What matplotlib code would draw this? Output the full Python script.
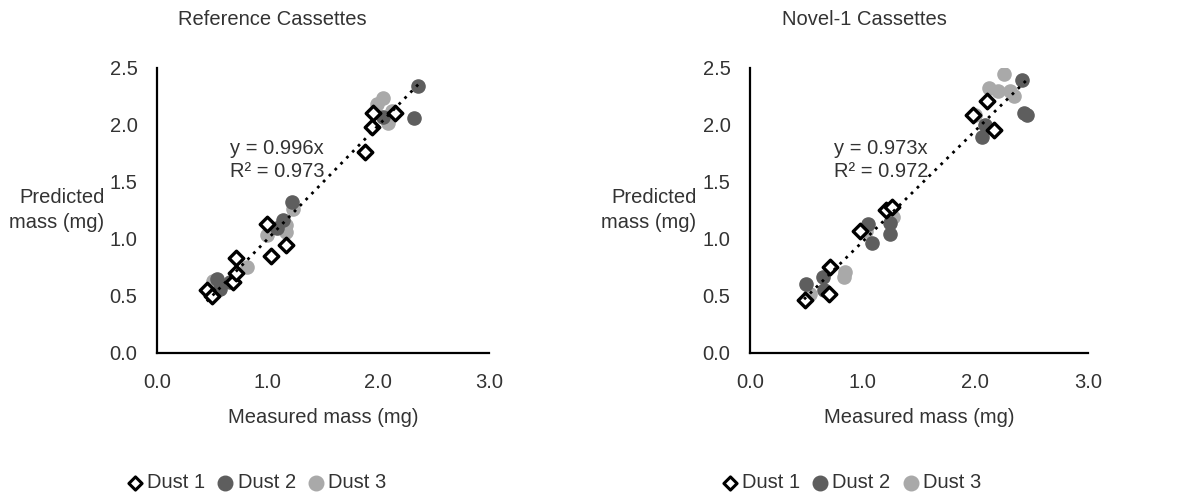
import matplotlib.pyplot as plt
import numpy as np

plt.rcParams['font.family'] = ['Liberation Sans', 'DejaVu Sans']

# Reference cassettes
ref_d1_x = [0.45, 0.50, 0.69, 0.71, 0.71, 0.99, 1.03, 1.17, 1.88, 1.94, 1.95, 2.15]
ref_d1_y = [0.55, 0.50, 0.62, 0.70, 0.83, 1.13, 0.85, 0.94, 1.76, 1.98, 2.10, 2.10]
ref_d2_x = [0.54, 0.57, 0.66, 1.08, 1.14, 1.22, 2.04, 2.32, 2.36]
ref_d2_y = [0.645, 0.56, 0.62, 1.09, 1.16, 1.32, 2.07, 2.06, 2.34]
ref_d3_x = [0.51, 0.54, 0.81, 0.99, 1.17, 1.17, 1.23, 1.99, 2.04, 2.09, 2.12]
ref_d3_y = [0.63, 0.57, 0.75, 1.03, 1.06, 1.12, 1.26, 2.18, 2.23, 2.01, 2.12]

# Novel-1 cassettes
nov_d1_x = [0.49, 0.70, 0.71, 0.98, 1.21, 1.26, 1.98, 2.10, 2.17]
nov_d1_y = [0.46, 0.51, 0.75, 1.07, 1.25, 1.28, 2.08, 2.21, 1.95]
nov_d2_x = [0.50, 0.65, 0.66, 1.05, 1.08, 1.24, 1.24, 2.06, 2.09, 2.41, 2.43, 2.46]
nov_d2_y = [0.60, 0.66, 0.55, 1.13, 0.96, 1.04, 1.14, 1.89, 2.00, 2.39, 2.10, 2.08]
nov_d3_x = [0.53, 0.83, 0.84, 1.03, 1.27, 2.00, 2.12, 2.20, 2.25, 2.31, 2.34]
nov_d3_y = [0.51, 0.66, 0.71, 1.07, 1.19, 2.08, 2.32, 2.29, 2.44, 2.29, 2.25]

panels = [
    ("Reference Cassettes", 0.996, 0.973, (0.45, 2.37),
     ref_d1_x, ref_d1_y, ref_d2_x, ref_d2_y, ref_d3_x, ref_d3_y),
    ("Novel-1 Cassettes", 0.973, 0.972, (0.48, 2.45),
     nov_d1_x, nov_d1_y, nov_d2_x, nov_d2_y, nov_d3_x, nov_d3_y),
]

txt = '#333333'
c2 = '#5e5e5e'
c3 = '#a9a9a9'
fs = 14.5

fig = plt.figure(figsize=(11.79, 5), dpi=100)
lefts = [157 / 1179, 750 / 1179]
widths = [332 / 1179, 338 / 1179]
title_x = [0.063, 0.095]
eq_x = [0.66, 0.75]

for k, (title, slope, r2, xr, x1, y1, x2, y2, x3, y3) in enumerate(panels):
    ax = fig.add_axes([lefts[k], 0.295, widths[k], 0.57])
    ax.scatter(x3, y3, s=90, color=c3, zorder=2)
    ax.scatter(x2, y2, s=90, color=c2, zorder=3)
    ax.scatter(x1, y1, s=55, marker='D', facecolor='white', edgecolor='black',
               linewidth=2.4, zorder=4)
    xs = np.array(xr)
    ax.plot(xs, slope * xs, color='black', linestyle=(0, (1, 2.0)), linewidth=2, zorder=5)
    ax.set_xlim(0, 3)
    ax.set_ylim(0, 2.5)
    ax.set_xticks([0, 1, 2, 3])
    ax.set_xticklabels(['0.0', '1.0', '2.0', '3.0'])
    ax.set_yticks([0, 0.5, 1.0, 1.5, 2.0, 2.5])
    ax.set_yticklabels(['0.0', '0.5', '1.0', '1.5', '2.0', '2.5'])
    ax.tick_params(length=0, labelsize=fs, colors=txt)
    ax.tick_params(axis='x', pad=15)
    ax.tick_params(axis='y', pad=14)
    for s in ['top', 'right']:
        ax.spines[s].set_visible(False)
    for s in ['left', 'bottom']:
        ax.spines[s].set_linewidth(1.6)
        ax.spines[s].set_color('black')
    ax.text(eq_x[k], 1.87, f"y = {slope:.3f}x\nR² = {r2:.3f}",
            fontsize=fs, color=txt, va='top', linespacing=1.25)
    ax.text(title_x[k], 1.168, title, fontsize=fs, color=txt, va='center',
            transform=ax.transAxes)
    ax.set_xlabel('Measured mass (mg)', fontsize=fs, color=txt)
    ax.xaxis.set_label_coords(0.5, -0.228)
    ax.xaxis.label.set_va('center')
    ax.set_ylabel('Predicted\nmass (mg)', fontsize=fs, color=txt, rotation=0,
                  ha='right', va='center', linespacing=1.35)
    ax.yaxis.set_label_coords(-0.158, 0.5)

    h1 = ax.scatter([], [], s=45, marker='D', facecolor='white', edgecolor='black', linewidth=2.2)
    h2 = ax.scatter([], [], s=110, color=c2)
    h3 = ax.scatter([], [], s=110, color=c3)
    ax.legend([h1, h2, h3], ['Dust 1', 'Dust 2', 'Dust 3'], loc='center',
              bbox_to_anchor=(0.30, -0.456), ncol=3, frameon=False, fontsize=fs,
              handlelength=0.8, handletextpad=0.2, columnspacing=0.6, labelcolor=txt)

fig.savefig('out.png', dpi=100)
